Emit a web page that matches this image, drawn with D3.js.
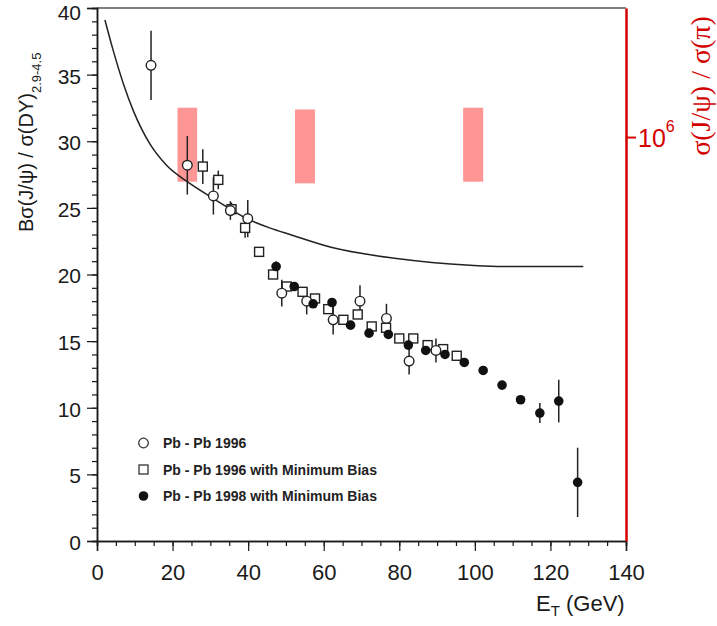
<!DOCTYPE html>
<html><head><meta charset="utf-8">
<script src="https://cdn.jsdelivr.net/npm/d3@7"></script>
<style>body{margin:0;background:#fff}svg{display:block}</style>
</head><body>
<svg id="c" width="717" height="626"></svg>
<script>
// ---- data ----
const xTicks = [0,20,40,60,80,100,120,140];
const yTicks = [0,5,10,15,20,25,30,35,40];
const rightTickValues = [1e6];
const legendLabels = ["Pb - Pb 1996","Pb - Pb 1996 with Minimum Bias","Pb - Pb 1998 with Minimum Bias"];

// Pb-Pb 1996 (open circles): [ET, value, error]
const pb96 = [[14.3,35.7,2.6],[23.9,28.2,2.2],[30.8,25.9,1.4],[35.3,24.8,0.7],[39.9,24.2,1.4],
  [48.9,18.6,1.0],[55.5,18.0,1.0],[62.5,16.6,1.1],[69.6,18.0,1.2],[76.6,16.7,1.1],[82.6,13.5,1.0],[89.7,14.3,0.9]];
// Pb-Pb 1996 with Minimum Bias (open squares)
const pb96mb = [[28.0,28.1,1.3],[32.1,27.1,0.7],[35.6,24.9,0.5],[39.2,23.5,0.75],[42.9,21.7,0],[46.6,20.0,0],
  [50.2,19.1,0],[54.4,18.7,0],[57.7,18.2,0],[61.2,17.4,0],[65.2,16.6,0],[69.0,17.0,0],[72.7,16.1,0],
  [76.5,16.0,0],[80.0,15.2,0],[83.7,15.2,0],[87.5,14.7,0],[91.6,14.4,0],[95.2,13.9,0]];
// Pb-Pb 1998 with Minimum Bias (filled circles)
const pb98mb = [[47.4,20.6,0.4],[52.2,19.1,0],[57.2,17.8,0],[62.2,17.9,0],[67.1,16.2,0],[72.0,15.6,0],
  [77.1,15.5,0],[82.4,14.7,0],[87.0,14.3,0],[92.1,14.0,0],[97.2,13.4,0],[102.2,12.8,0],[107.2,11.7,0],
  [112.1,10.6,0],[117.2,9.6,0.75],[122.2,10.5,1.6],[127.2,4.4,2.6]];
// Theory curve
const curveX = [2.1,4.3,7.0,9.6,14.0,18.4,23.7,30.8,39.6,45.7,51.1,62.5,79.3,98.7,107.5,128.7];
const curveY = [39.1,36.8,34.3,32.3,29.8,28.2,27.0,25.7,24.2,23.5,23.0,22.0,21.2,20.7,20.6,20.6];
// sigma(J/psi)/sigma(pi) bands (right log axis): [ET low, ET high, value low, value high]
const bands = [[21.3,26.5,6.01e5,1.397e6],[52.4,57.7,5.90e5,1.37e6],[96.9,102.2,6.01e5,1.397e6]];

// ---- drawing ----
const svg = d3.select("#c");
const L=97, R=626, T=8, B=541;
const x = d3.scaleLinear().domain([0,140]).range([L,R]);
const y = d3.scaleLinear().domain([0,40]).range([B,T]);
const yR = d3.scaleLog().domain([1e4, Math.pow(10,6.639)]).range([B,T]);
const font = "'Liberation Sans', Arial, sans-serif";
const ink = "#1a1a1a";

// top frame
svg.append("line").attr("x1",L).attr("x2",R).attr("y1",T).attr("y2",T).attr("stroke","#555").attr("stroke-width",1.5);

// left axis: minor then major
const gy = svg.append("g").attr("transform",`translate(${L},0)`);
gy.call(d3.axisLeft(y).tickValues(d3.range(0,41,1)).tickSize(5).tickFormat(""));
gy.append("g").call(d3.axisLeft(y).tickValues(yTicks).tickSize(10).tickPadding(6).tickFormat(d3.format("d")));
gy.selectAll("path.domain").attr("stroke",ink).attr("stroke-width",1.5);
gy.selectAll("line").attr("stroke",ink).attr("stroke-width",1.2);
gy.selectAll("text").attr("font-family",font).attr("font-size",21).attr("fill",ink)
  .attr("dy",d=>d===40?"0.55em":"0.4em");

// bottom axis
const gx = svg.append("g").attr("transform",`translate(0,${B})`);
gx.call(d3.axisBottom(x).tickValues(d3.range(0,141,5)).tickSize(5).tickFormat(""));
gx.append("g").call(d3.axisBottom(x).tickValues(xTicks).tickSize(10).tickPadding(13).tickFormat(d3.format("d")));
gx.selectAll("path.domain").attr("stroke",ink).attr("stroke-width",1.5);
gx.selectAll("line").attr("stroke",ink).attr("stroke-width",1.2);
gx.selectAll("text").attr("font-family",font).attr("font-size",22).attr("fill",ink);

// right red axis
const red = "#d40000";
const gr = svg.append("g").attr("transform",`translate(${R},0)`);
gr.call(d3.axisRight(yR).tickValues(rightTickValues).tickSize(10).tickSizeOuter(0).tickFormat(""));
gr.selectAll("path.domain").attr("stroke",red).attr("stroke-width",2.5);
gr.selectAll("line").attr("stroke",red).attr("stroke-width",2);
rightTickValues.forEach(v=>{
  const t = svg.append("text").attr("x",R+12).attr("y",yR(v)+10).attr("font-family",font).attr("font-size",25).attr("fill",red);
  t.append("tspan").text("10");
  t.append("tspan").attr("font-size",16).attr("dy",-15).text(Math.round(Math.log10(v)));
});

// bands
svg.append("g").selectAll("rect").data(bands).join("rect")
  .attr("x",d=>x(d[0])).attr("width",d=>x(d[1])-x(d[0]))
  .attr("y",d=>yR(d[3])).attr("height",d=>yR(d[2])-yR(d[3]))
  .attr("fill","#ff9696");

// theory curve
const line = d3.line().x(d=>x(d[0])).y(d=>y(d[1])).curve(d3.curveMonotoneX);
svg.append("path").datum(curveX.map((v,i)=>[v,curveY[i]])).attr("d",line)
  .attr("fill","none").attr("stroke","#222").attr("stroke-width",1.5);

// error bars
function errs(data){
  svg.append("g").selectAll("line").data(data.filter(d=>d[2]>0)).join("line")
    .attr("x1",d=>x(d[0])).attr("x2",d=>x(d[0])).attr("y1",d=>y(d[1]-d[2])).attr("y2",d=>y(d[1]+d[2]))
    .attr("stroke","#222").attr("stroke-width",1.5);
}
errs(pb96mb); errs(pb96); errs(pb98mb);

svg.append("g").selectAll("rect").data(pb96mb).join("rect")
  .attr("x",d=>x(d[0])-4.5).attr("y",d=>y(d[1])-4.5).attr("width",9).attr("height",9)
  .attr("fill","#fff").attr("stroke","#222").attr("stroke-width",1.4);
svg.append("g").selectAll("circle").data(pb96).join("circle")
  .attr("cx",d=>x(d[0])).attr("cy",d=>y(d[1])).attr("r",4.8)
  .attr("fill","#fff").attr("stroke","#222").attr("stroke-width",1.4);
svg.append("g").selectAll("circle").data(pb98mb).join("circle")
  .attr("cx",d=>x(d[0])).attr("cy",d=>y(d[1])).attr("r",4.8).attr("fill","#111");

// legend
const lg = svg.append("g");
const ly = [443,469.5,496];
lg.append("circle").attr("cx",143.5).attr("cy",ly[0]).attr("r",4.8).attr("fill","#fff").attr("stroke","#333").attr("stroke-width",1.3);
lg.append("rect").attr("x",139).attr("y",ly[1]-4.5).attr("width",9).attr("height",9).attr("fill","#fff").attr("stroke","#333").attr("stroke-width",1.3);
lg.append("circle").attr("cx",143.5).attr("cy",ly[2]).attr("r",4.8).attr("fill","#111");
lg.selectAll("text").data(legendLabels).join("text")
  .attr("x",163).attr("y",(d,i)=>ly[i]+5).text(d=>d)
  .attr("font-family",font).attr("font-weight","bold").attr("font-size",14).attr("fill","#222");

// left title
const lt = svg.append("text").attr("transform","translate(33,232) rotate(-90)")
  .attr("font-family",font).attr("font-size",20).attr("fill",ink);
lt.append("tspan").text("Bσ(J/ψ) / σ(DY)");
lt.append("tspan").attr("font-size",13).attr("dy",8).text("2.9-4.5");

// x title
const xt = svg.append("text").attr("x",536).attr("y",611).attr("font-family",font).attr("font-size",22).attr("fill",ink);
xt.append("tspan").text("E");
xt.append("tspan").attr("font-size",15).attr("dy",5).text("T");
xt.append("tspan").attr("dy",-5).text(" (GeV)");

// right title
svg.append("text").attr("transform","translate(710,86) rotate(-90)").attr("text-anchor","middle")
  .attr("font-family","'Liberation Serif', serif").attr("font-size",28).attr("fill",red)
  .text("σ(J/ψ) / σ(π)");
</script>
</body></html>
